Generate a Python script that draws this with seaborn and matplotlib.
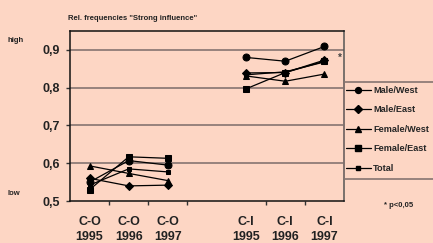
import numpy as np
import pandas as pd
import matplotlib.pyplot as plt
from matplotlib.lines import Line2D
from matplotlib.patches import Rectangle
import seaborn as sns

# categories on the x axis (slot 3 is an empty gap)
cat_labels = ['C-O\n1995', 'C-O\n1996', 'C-O\n1997', '', 'C-I\n1995', 'C-I\n1996', 'C-I\n1997']
co_pos = [0, 1, 2]
ci_pos = [4, 5, 6]

series_names = ['Male/West', 'Male/East', 'Female/West', 'Female/East', 'Total']
co_values = {
    'Male/West':   [0.550, 0.607, 0.595],
    'Male/East':   [0.560, 0.540, 0.542],
    'Female/West': [0.593, 0.573, 0.554],
    'Female/East': [0.530, 0.617, 0.613],
    'Total':       [0.542, 0.585, 0.577],
}
ci_values = {
    'Male/West':   [0.880, 0.870, 0.909],
    'Male/East':   [0.839, 0.840, 0.873],
    'Female/West': [0.831, 0.817, 0.836],
    'Female/East': [0.797, 0.840, 0.870],
    'Total':       [0.834, 0.842, 0.868],
}
markers = {'Male/West': 'o', 'Male/East': 'D', 'Female/West': '^', 'Female/East': 's', 'Total': 's'}
msizes = {'Male/West': 5, 'Male/East': 4.5, 'Female/West': 5, 'Female/East': 5, 'Total': 2.6}

rows = []
for name in series_names:
    for p, v in zip(co_pos, co_values[name]):
        rows.append((name, 'C-O', p, v))
    for p, v in zip(ci_pos, ci_values[name]):
        rows.append((name, 'C-I', p, v))
df = pd.DataFrame(rows, columns=['series', 'period', 'pos', 'value'])

bg = '#fdd6c4'
sns.set_style('white')
plt.rcParams['font.family'] = ['Liberation Sans', 'DejaVu Sans']
plt.rcParams['font.weight'] = 'bold'

fig = plt.figure(figsize=(4.33, 2.43), dpi=100, facecolor=bg)
ax = fig.add_axes([70 / 433, 1 - 201 / 243, 274 / 433, 170 / 243])
ax.set_facecolor(bg)

for y in [0.6, 0.7, 0.8, 0.9]:
    ax.axhline(y, color='#857470', lw=1.2, zorder=1)

for name in series_names:
    sub = df[df['series'] == name]
    sns.lineplot(data=sub, x='pos', y='value', units='period', estimator=None,
                 color='black', lw=0.9, marker=markers[name], markersize=msizes[name],
                 markeredgecolor='black', markerfacecolor='black', ax=ax, zorder=3)

ax.set_xlim(-0.5, 6.5)
ax.set_ylim(0.5, 0.95)
ax.set_xlabel('')
ax.set_ylabel('')

ax.set_yticks([0.5, 0.6, 0.7, 0.8, 0.9])
ax.set_yticklabels(['0,5', '0,6', '0,7', '0,8', '0,9'], fontsize=9, fontweight='bold', color='#222222')
ax.tick_params(axis='y', left=True, length=3, width=1, pad=4, color='#333333')

ax.set_xticks(range(len(cat_labels)))
ax.set_xticklabels(cat_labels, fontsize=9, fontweight='bold', color='#222222', linespacing=1.25)
ax.tick_params(axis='x', which='major', length=0, pad=11)
ax.set_xticks([0.5, 1.5, 2.5, 4.5, 5.5], minor=True)
ax.tick_params(axis='x', which='minor', bottom=True, length=3, width=1, color='#333333')

for s in ax.spines.values():
    s.set_visible(True)
    s.set_color('#111111')
    s.set_linewidth(1.1)
ax.spines['right'].set_color('#555555')

# legend box outside on the right
fig.patches.append(Rectangle((344 / 433, 1 - 179 / 243), 100 / 433, 97 / 243,
                             transform=fig.transFigure, facecolor='none',
                             edgecolor='#857470', lw=1.2))
handles = [Line2D([], [], color='black', lw=0.9, marker=markers[n], markersize=msizes[n] * 0.85)
           for n in series_names]
fig.legend(handles, series_names, loc='upper left', bbox_to_anchor=(344 / 433, 1 - 84 / 243),
           frameon=False, handlelength=2.7, handletextpad=0.3,
           labelspacing=1.15, borderaxespad=0, borderpad=0.2,
           prop={'weight': 'bold', 'size': 6.6})

fig.text(68 / 433, 1 - 19 / 243, 'Rel. frequencies "Strong influence"', fontsize=5.5,
         fontweight='bold', va='center', ha='left', color='#222222')
fig.text(8 / 433, 1 - 40 / 243, 'high', fontsize=5.5, fontweight='bold', va='center', color='#222222')
fig.text(8 / 433, 1 - 193 / 243, 'low', fontsize=5.5, fontweight='bold', va='center', color='#222222')
fig.text(340 / 433, 1 - 58 / 243, '*', fontsize=7, fontweight='bold', va='center', ha='center', color='#444444')
fig.text(384 / 433, 1 - 205 / 243, '* p<0,05', fontsize=5.5, fontweight='bold', va='center', color='#222222')

fig.savefig('out.png', dpi=100, facecolor=bg)
